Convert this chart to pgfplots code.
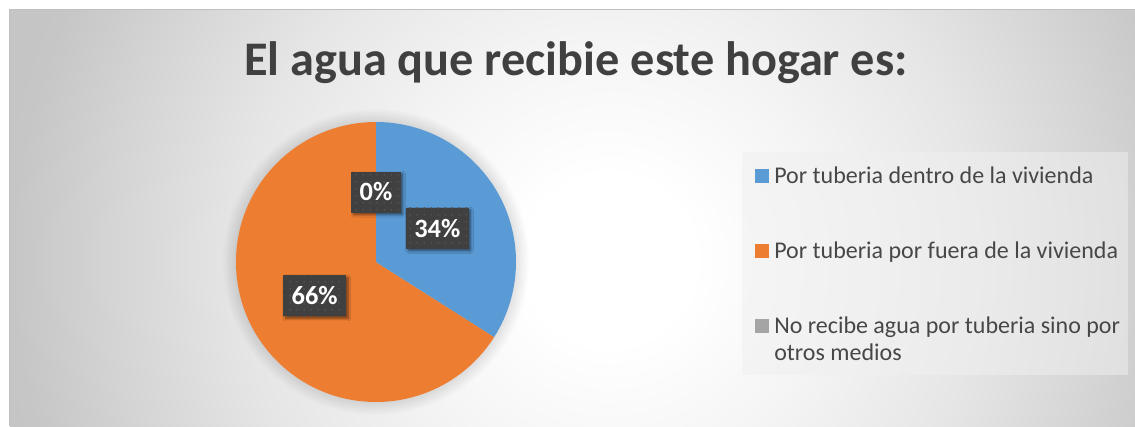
\documentclass[border=0pt]{standalone}
\usepackage{pgfplots}
\pgfplotsset{compat=1.18}
\usepackage{pgfplotstable}
\usepackage{fontspec}
\setmainfont{Carlito}
\usetikzlibrary{shadows.blur,patterns.meta}
\definecolor{pieblue}{HTML}{5B9BD5}
\definecolor{pieorange}{HTML}{ED7D31}
\definecolor{piegray}{HTML}{A5A5A5}
\definecolor{titlegray}{HTML}{404040}
\definecolor{legendgray}{HTML}{474747}
\definecolor{labelbox}{HTML}{404040}
\definecolor{labeldot}{HTML}{575757}
\definecolor{edgegray}{HTML}{C0C0C0}
\definecolor{legfill}{HTML}{F0F0F0}
\pgfdeclareradialshading{bgshade}{\pgfpoint{0bp}{0bp}}{rgb(0bp)=(1,1,1); rgb(3.5bp)=(1,1,1); rgb(9bp)=(0.96,0.96,0.96); rgb(15.5bp)=(0.9,0.9,0.9); rgb(21bp)=(0.83,0.83,0.83); rgb(25bp)=(0.775,0.775,0.775); rgb(36bp)=(0.76,0.76,0.76); rgb(50bp)=(0.76,0.76,0.76)}
\tikzdeclarepattern{name=sparsedots, type=uncolored,
  bounding box={(0pt,0pt) and (5pt,5pt)}, tile size={(5pt,5pt)},
  code={\fill (2.5pt,2.5pt) circle (0.7pt);}}

\pgfplotstableread{
slice value
dentro 34
fuera 66
otros 0
}\piedata
\pgfplotstablegetelem{0}{value}\of\piedata \edef\va{\pgfplotsretval}
\pgfplotstablegetelem{1}{value}\of\piedata \edef\vb{\pgfplotsretval}
\pgfplotstablegetelem{2}{value}\of\piedata \edef\vc{\pgfplotsretval}
\pgfmathsetmacro\endA{90-3.6*\va}
\pgfmathsetmacro\endB{90+3.6*\vb}
\pgfmathsetmacro\midA{90-1.8*\va}
\pgfmathsetmacro\midB{90+1.8*\vb}
\pgfmathsetmacro\midC{90-3.6*(\va+\vb)-1.8*\vc}
\pgfmathsetmacro\xA{0.5*cos(\midA)}\pgfmathsetmacro\yA{0.5*sin(\midA)}
\pgfmathsetmacro\xB{0.5*cos(\midB)}\pgfmathsetmacro\yB{0.5*sin(\midB)}
\pgfmathsetmacro\xC{0.5*cos(\midC)}\pgfmathsetmacro\yC{0.5*sin(\midC)}

\begin{document}
\begin{tikzpicture}[x=0.75pt,y=0.75pt,
  lbl/.style={fill=labelbox, text=white, font=\fontsize{19.8}{22}\selectfont\bfseries,
    minimum height=30.75pt, inner xsep=6.2pt, inner ysep=0pt,
    postaction={pattern={sparsedots}, pattern color=labeldot},
    blur shadow={shadow xshift=1.6pt, shadow yshift=-1.6pt, shadow blur steps=6, shadow opacity=55}},
  leg/.style={anchor=base west, inner sep=0pt, text=legendgray, font=\fontsize{18}{20}\selectfont}]
\useasboundingbox (0,0) rectangle (1135,426);
\fill[white] (0,0) rectangle (1135,426);
\begin{scope}
\clip (9,0) rectangle (1135,416);
\shade[shading=bgshade] (10,-434) rectangle (1210,766);
\end{scope}
\draw[edgegray, line width=0.75pt] (9,0) -- (9,416) -- (1135,416);
\node[anchor=base, inner sep=0pt, text=titlegray, font=\fontsize{36.2}{40}\selectfont\bfseries] at (576,350) {El agua que recibie este hogar es:};
% legend
\fill[legfill, opacity=0.5] (742,51) rectangle (1128,274);
\fill[pieblue] (754.5,243) rectangle (768.5,257);
\fill[pieorange] (754.5,168.5) rectangle (768.5,182.5);
\fill[piegray] (754.5,93) rectangle (768.5,107);
\node[leg] at (774,242.7) {Por tuberia dentro de la vivienda};
\node[leg] at (774,168) {Por tuberia por fuera de la vivienda};
\node[leg] at (774,92.7) {No recibe agua por tuberia sino por};
\node[leg] at (774,66) {otros medios};
% soft shadow round the pie
\foreach \r in {141,142.5,...,154}{\fill[black, opacity=0.011] (376,164) circle (\r);}
% pie
\begin{axis}[at={(282pt,123pt)}, anchor=center, scale only axis, width=210pt, height=210pt,
  xmin=-1, xmax=1, ymin=-1, ymax=1, hide axis, clip=false]
\addplot[fill=pieorange, draw=none] coordinates {(0,0) (0,1)} arc[start angle=90, end angle=\endB, radius=105pt] -- cycle;
\addplot[fill=pieblue, draw=none] coordinates {(0,0) (0,1)} arc[start angle=90, end angle=\endA, radius=105pt] -- cycle;
\node[lbl] at (axis cs:\xC,\yC) {\vc\%};
\node[lbl] at (axis cs:\xA,\yA) {\va\%};
\node[lbl] at (axis cs:\xB,\yB) {\vb\%};
\end{axis}
\end{tikzpicture}
\end{document}
